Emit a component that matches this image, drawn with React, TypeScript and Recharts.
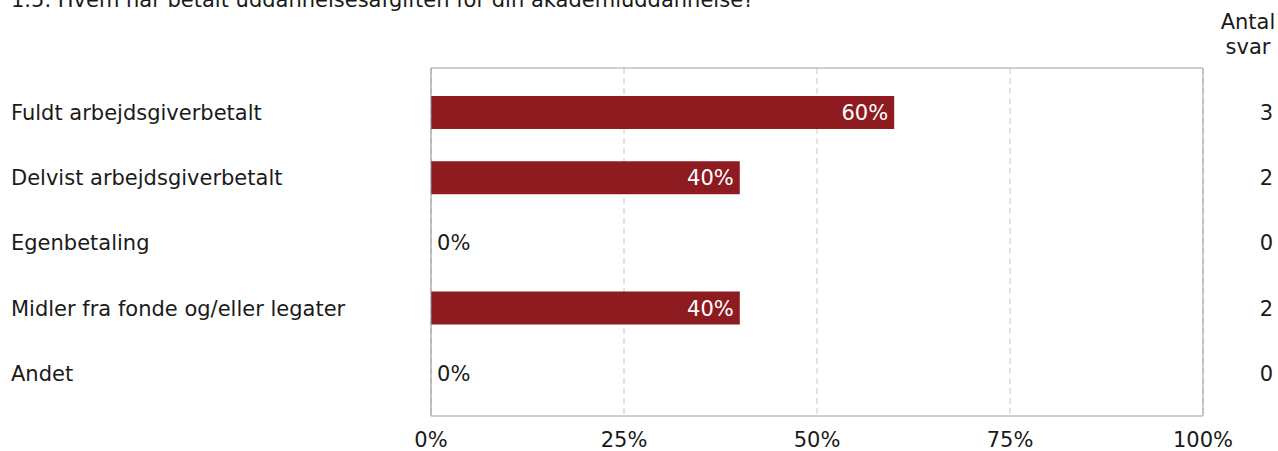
import React from "react";
import {
  BarChart,
  Bar,
  XAxis,
  YAxis,
  CartesianGrid,
  LabelList,
} from "recharts";

const categories = [
  "Fuldt arbejdsgiverbetalt",
  "Delvist arbejdsgiverbetalt",
  "Egenbetaling",
  "Midler fra fonde og/eller legater",
  "Andet",
];
const percents = [60, 40, 0, 40, 0];
const counts = [3, 2, 0, 2, 0];
const xTicks = [0, 25, 50, 75, 100];
const title = "1.5. Hvem har betalt uddannelsesafgiften for din akademiuddannelse?";

const data = categories.map((name, i) => ({
  name,
  value: percents[i],
  count: counts[i],
}));

const FONT = "'DejaVu Sans', Verdana, sans-serif";
const FS = 21;
const BAR_COLOR = "#8e1b20";
const TEXT = "#1a1a1a";

const YTick = (props: any) => {
  const { y, payload } = props;
  const c = data.find((d) => d.name === payload.value);
  return (
    <g>
      <text x={11} y={y} dy="0.355em" textAnchor="start" fill={TEXT} fontSize={FS} fontFamily={FONT}>
        {payload.value}
      </text>
      {c && c.value === 0 ? (
        <text x={437} y={y} dy="0.355em" textAnchor="start" fill={TEXT} fontSize={FS} fontFamily={FONT}>
          {c.value}%
        </text>
      ) : null}
      <text x={1273} y={y} dy="0.355em" textAnchor="end" fill={TEXT} fontSize={FS} fontFamily={FONT}>
        {c ? c.count : ""}
      </text>
    </g>
  );
};

const XTick = (props: any) => {
  const { x, payload } = props;
  return (
    <text x={x} y={440} dy="0.355em" textAnchor="middle" fill={TEXT} fontSize={FS} fontFamily={FONT}>
      {payload.value}%
    </text>
  );
};

const BarLabel = (props: any) => {
  const { x, y, width, height, value } = props;
  if (!(value > 0)) return null;
  const cy = y + height / 2;
  return (
    <text x={x + width - 6} y={cy} dy="0.355em" textAnchor="end" fill="#ffffff" fontSize={FS} fontFamily={FONT}>
      {value}%
    </text>
  );
};

export default function App() {
  return (
    <div style={{ position: "absolute", left: 0, top: 0, width: 1278, height: 451, background: "#fff" }}>
      <svg width={1278} height={60} style={{ position: "absolute", left: 0, top: 0 }}>
        <text x={11} y={7} fill={TEXT} fontSize={FS} fontFamily={FONT}>
          {title}
        </text>
        <text x={1248} y={29} textAnchor="middle" fill={TEXT} fontSize={FS} fontFamily={FONT}>
          Antal
        </text>
        <text x={1248} y={54} textAnchor="middle" fill={TEXT} fontSize={FS} fontFamily={FONT}>
          svar
        </text>
      </svg>
      <div style={{ position: "absolute", left: 0, top: 0 }}>
        <BarChart
          width={1278}
          height={451}
          data={data}
          layout="vertical"
          margin={{ top: 67, right: 0, bottom: 0, left: 0 }}
          barSize={33}
        >
          <CartesianGrid horizontal={false} vertical={true} stroke="#c8c8c8" strokeDasharray="6 4" />
          <XAxis
            type="number"
            domain={[0, 100]}
            ticks={xTicks}
            axisLine={{ stroke: "#a0a0a0" }}
            tickLine={false}
            height={35}
            tick={<XTick />}
            interval={0}
          />
          <XAxis
            xAxisId="top"
            orientation="top"
            type="number"
            domain={[0, 100]}
            height={1}
            axisLine={{ stroke: "#a0a0a0" }}
            tickLine={false}
            tick={false}
          />
          <YAxis
            type="category"
            dataKey="name"
            width={431}
            axisLine={{ stroke: "#909090" }}
            tickLine={false}
            tick={<YTick />}
            padding={{ top: 12, bottom: 10 }}
            interval={0}
          />
          <YAxis
            yAxisId="right"
            orientation="right"
            type="category"
            dataKey="name"
            width={75}
            axisLine={{ stroke: "#a0a0a0" }}
            tickLine={false}
            tick={false}
          />
          <Bar dataKey="value" fill={BAR_COLOR} isAnimationActive={false}>
            <LabelList dataKey="value" content={<BarLabel />} />
          </Bar>
        </BarChart>
      </div>
    </div>
  );
}
